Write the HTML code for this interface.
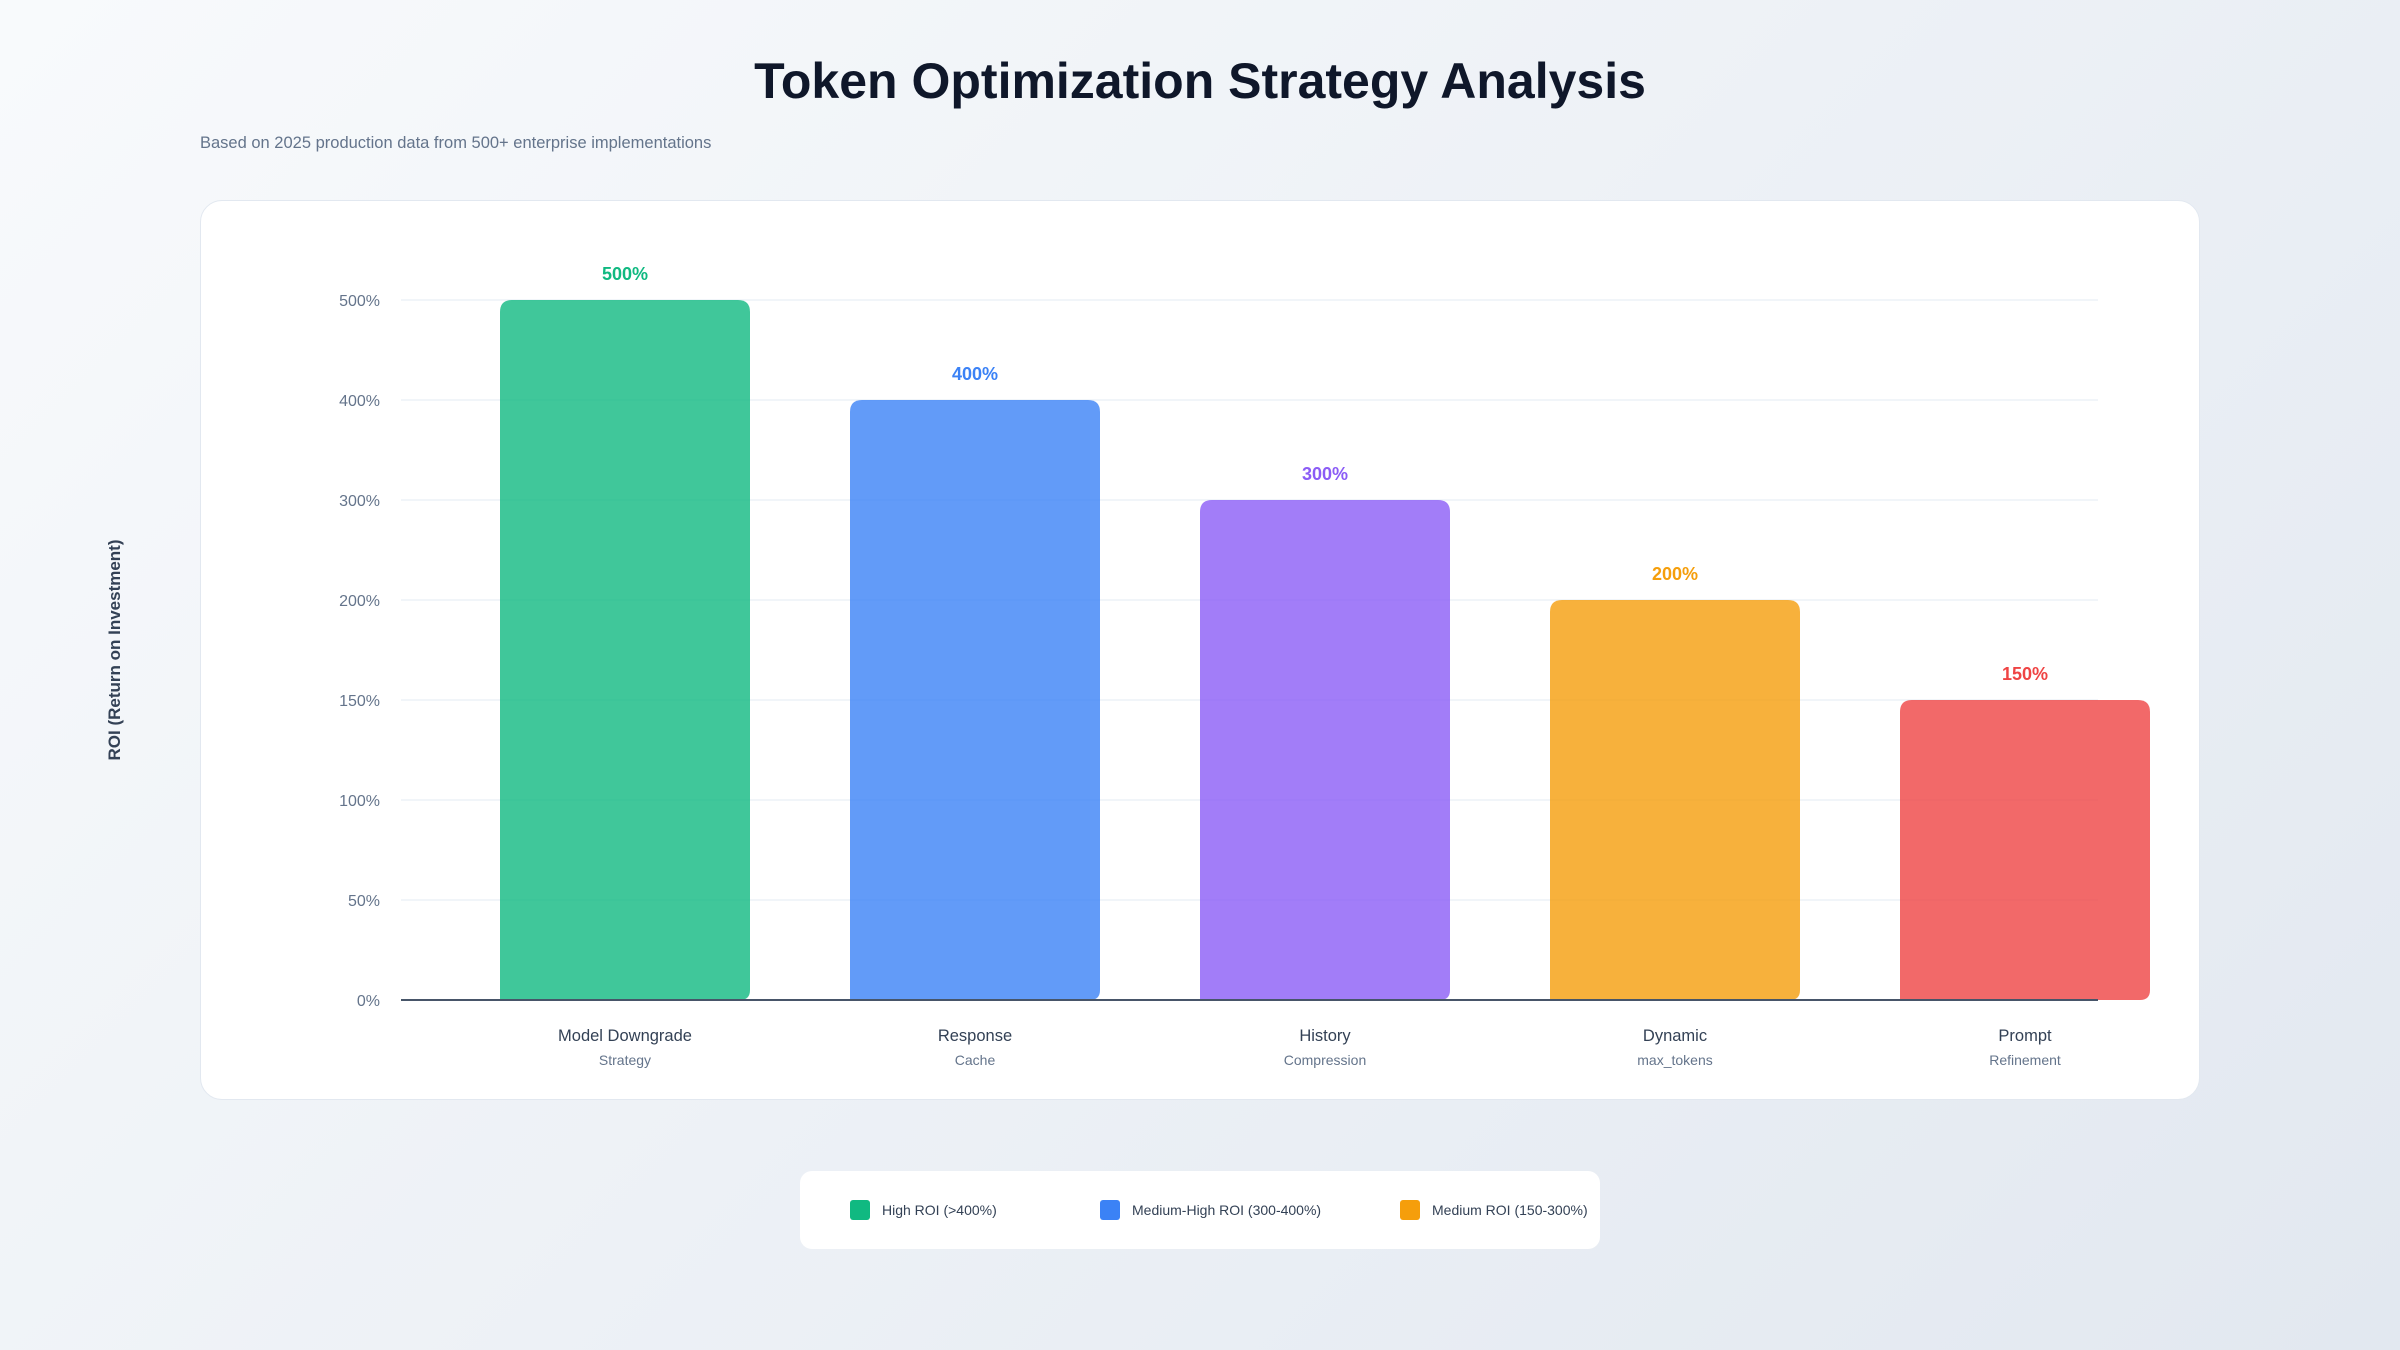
<!DOCTYPE html>
<html><head><meta charset="utf-8">
<style>
html,body{margin:0;padding:0;}
body{width:2400px;height:1350px;overflow:hidden;background:linear-gradient(135deg,#f8fafc 0%,#e2e8f0 100%);font-family:"Liberation Sans",Arial,sans-serif;position:relative;}
#title{position:absolute;left:0;width:2400px;top:52px;text-align:center;font-size:50px;font-weight:bold;color:#0f172a;margin:0;}
#subtitle{position:absolute;left:200px;top:134px;font-size:16.5px;color:#64748b;}
#card{position:absolute;left:200px;top:200px;width:1998px;height:898px;background:#fff;border:1.5px solid #e2e8f0;border-radius:22px;}
#chart{position:absolute;left:0;top:0;}
#legend{position:absolute;left:800px;top:1171px;width:800px;height:78px;background:#fff;border-radius:12px;}
.li{position:absolute;top:29px;display:flex;align-items:center;font-size:14px;color:#334155;}
.sw{width:20px;height:20px;border-radius:3px;margin-right:12px;}
</style></head><body>
<h1 id="title">Token Optimization Strategy Analysis</h1>
<div id="subtitle">Based on 2025 production data from 500+ enterprise implementations</div>
<div id="card"></div>
<svg id="chart" width="2400" height="1350"></svg>
<div id="legend">
  <div class="li" style="left:50px"><div class="sw" style="background:#10b981"></div>High ROI (&gt;400%)</div>
  <div class="li" style="left:300px"><div class="sw" style="background:#3b82f6"></div>Medium-High ROI (300-400%)</div>
  <div class="li" style="left:600px"><div class="sw" style="background:#f59e0b"></div>Medium ROI (150-300%)</div>
</div>
<script>
const categories = ["Model Downgrade","Response","History","Dynamic","Prompt"];
const subLabels = ["Strategy","Cache","Compression","max_tokens","Refinement"];
const roiValues = [500,400,300,200,150];
const tickValues = [0,50,100,150,200,300,400,500];
const barColors = ["#10b981","#3b82f6","#8b5cf6","#f59e0b","#ef4444"];

const NS="http://www.w3.org/2000/svg";
const svg=document.getElementById('chart');
const plotTop=300, plotBottom=1000, plotLeft=401, plotRight=2098;
const bandStart=450, bandStep=350, barW=250;
function y(v){
  // piecewise-linear scale over evenly spaced ticks
  const n=tickValues.length-1, step=(plotBottom-plotTop)/n;
  if(v<=tickValues[0]) return plotBottom;
  for(let i=0;i<n;i++){
    const a=tickValues[i], b=tickValues[i+1];
    if(v<=b){ return plotBottom-(i+(v-a)/(b-a))*step; }
  }
  return plotTop-(v-tickValues[n])/(tickValues[n]-tickValues[n-1])*step;
}
function x(i){return bandStart+i*bandStep+(bandStep-barW)/2;}
function mk(tag,attrs,text){const e=document.createElementNS(NS,tag);for(const k in attrs)e.setAttribute(k,attrs[k]);if(text!==undefined)e.textContent=text;svg.appendChild(e);return e;}

tickValues.forEach(t=>{
  const g=mk('line',{x1:plotLeft,x2:plotRight,y1:y(t),y2:y(t),stroke:'#f1f5f9','stroke-width':2});
  
  
  const l=mk('text',{x:380,y:y(t)+6,'text-anchor':'end','font-size':16,fill:'#64748b','font-family':'Liberation Sans, sans-serif'},t+'%');
  
  
});

roiValues.forEach((v,i)=>{
  const top=y(v), h=plotBottom-top;
  const b=mk('path',{d:`M${x(i)},${plotBottom} V${top+12} Q${x(i)},${top} ${x(i)+12},${top} H${x(i)+barW-12} Q${x(i)+barW},${top} ${x(i)+barW},${top+12} V${plotBottom-10} Q${x(i)+barW},${plotBottom} ${x(i)+barW-10},${plotBottom} H${x(i)} Z`,fill:barColors[i],'fill-opacity':0.8});
  
  
  const vl=mk('text',{x:x(i)+barW/2,y:top-20,'text-anchor':'middle','font-size':18,'font-weight':'bold',fill:barColors[i],'font-family':'Liberation Sans, sans-serif'},v+'%');
  
  
  const cl=mk('text',{x:x(i)+barW/2,y:1041,'text-anchor':'middle','font-size':16.5,fill:'#334155','font-family':'Liberation Sans, sans-serif'},categories[i]);
  
  
  const sl=mk('text',{x:x(i)+barW/2,y:1065,'text-anchor':'middle','font-size':14,fill:'#64748b','font-family':'Liberation Sans, sans-serif'},subLabels[i]);
  
  
});

const ax=mk('line',{x1:plotLeft,x2:plotRight,y1:plotBottom,y2:plotBottom,stroke:'#475569','stroke-width':2});


const yt=mk('text',{x:0,y:0,transform:'translate(120,650) rotate(-90)','text-anchor':'middle','font-size':17,'font-weight':'bold',fill:'#334155','font-family':'Liberation Sans, sans-serif'},'ROI (Return on Investment)');


</script>
</body></html>
